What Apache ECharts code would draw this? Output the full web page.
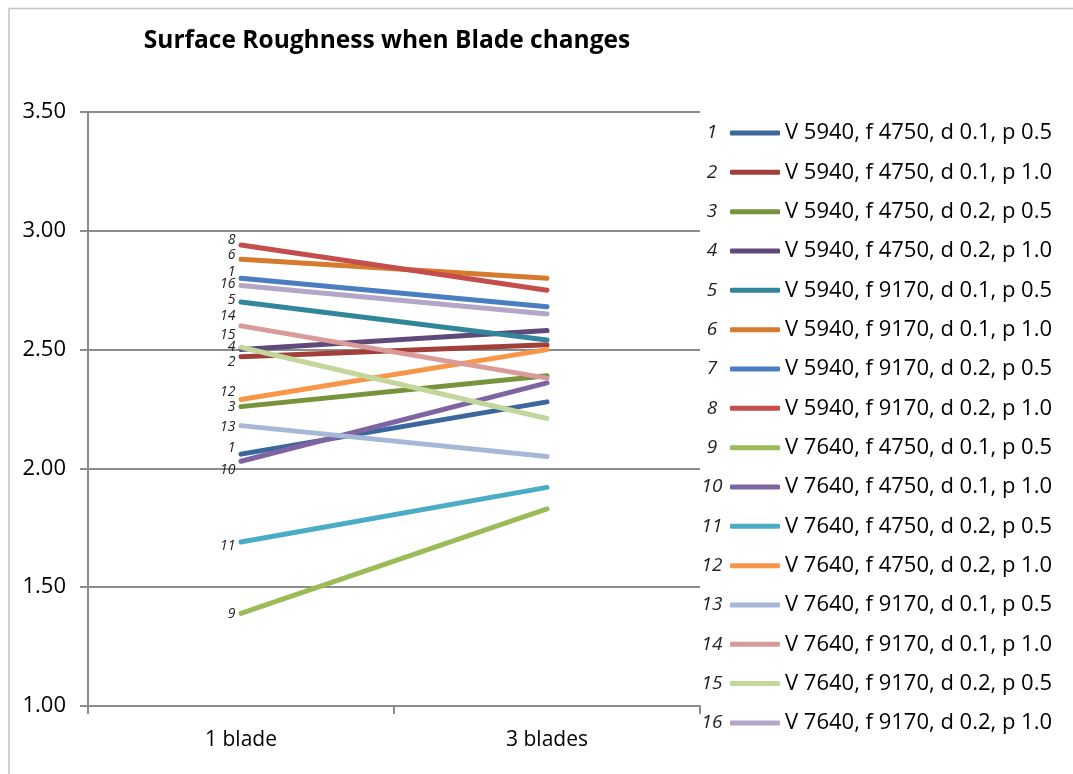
<!DOCTYPE html>
<html>
<head>
<meta charset="utf-8">
<title>Surface Roughness when Blade changes</title>
<script src="https://cdn.jsdelivr.net/npm/echarts@6/dist/echarts.min.js"></script>
<style>
  html, body { margin: 0; padding: 0; background: #ffffff; }
  #chart { width: 1073px; height: 774px; }
</style>
</head>
<body>
<div id="chart"></div>
<script>
// Categories on the x axis
const categories = ['1 blade', '3 blades'];

// Cutting conditions, one per line
const seriesNames = [
  'V 5940, f 4750, d 0.1, p 0.5',
  'V 5940, f 4750, d 0.1, p 1.0',
  'V 5940, f 4750, d 0.2, p 0.5',
  'V 5940, f 4750, d 0.2, p 1.0',
  'V 5940, f 9170, d 0.1, p 0.5',
  'V 5940, f 9170, d 0.1, p 1.0',
  'V 5940, f 9170, d 0.2, p 0.5',
  'V 5940, f 9170, d 0.2, p 1.0',
  'V 7640, f 4750, d 0.1, p 0.5',
  'V 7640, f 4750, d 0.1, p 1.0',
  'V 7640, f 4750, d 0.2, p 0.5',
  'V 7640, f 4750, d 0.2, p 1.0',
  'V 7640, f 9170, d 0.1, p 0.5',
  'V 7640, f 9170, d 0.1, p 1.0',
  'V 7640, f 9170, d 0.2, p 0.5',
  'V 7640, f 9170, d 0.2, p 1.0'
];

// Surface roughness with one blade
const oneBlade = [2.06, 2.47, 2.26, 2.50, 2.70, 2.88, 2.80, 2.94, 1.39, 2.03, 1.69, 2.29, 2.18, 2.60, 2.51, 2.77];

// Surface roughness with three blades
const threeBlades = [2.28, 2.52, 2.39, 2.58, 2.54, 2.80, 2.68, 2.75, 1.83, 2.36, 1.92, 2.50, 2.05, 2.38, 2.21, 2.65];

// Tags written next to the first point of each line
const pointTags = ['1', '2', '3', '4', '5', '6', '1', '8', '9', '10', '11', '12', '13', '14', '15', '16'];

// Numbers written in front of each legend entry
const legendNumbers = ['1', '2', '3', '4', '5', '6', '7', '8', '9', '10', '11', '12', '13', '14', '15', '16'];

// Value axis ticks
const yMin = 1.0, yMax = 3.5, yStep = 0.5;

// Line colours
const colors = [
  '#3A679C', '#A13F3B', '#77933C', '#604A7B', '#31869B', '#D67A2E', '#4A7EC0', '#C34E4B',
  '#9BBB59', '#8064A2', '#4BACC6', '#F79646', '#A6B8D8', '#D99B99', '#C3D69B', '#B3A6C8'
];

// Vertical nudges for the point tags so they do not collide
const tagShift = [-6, 5, 0, -3, -2, -4, -6, -5, 1, 9, 4, -7, 1, -10, -12, -1];

const FONT = '"Open Sans", "Noto Sans", sans-serif';
const GRID_COLOR = '#8c8c8c';

const chart = echarts.init(document.getElementById('chart'), null, { renderer: 'canvas' });

const series = seriesNames.map((name, i) => ({
  name: name,
  type: 'line',
  data: [oneBlade[i], threeBlades[i]],
  symbol: 'circle',
  symbolSize: 1,
  showSymbol: true,
  lineStyle: { width: 5, color: colors[i], cap: 'round' },
  itemStyle: { color: colors[i] },
  emphasis: { disabled: true },
  label: {
    show: true,
    position: 'left',
    distance: 5,
    offset: [0, tagShift[i]],
    fontFamily: FONT,
    fontStyle: 'italic',
    fontSize: 14,
    color: '#222',
    formatter: p => (p.dataIndex === 0 ? pointTags[i] : '')
  }
}));

// Legend geometry
const legendFont = 22, legendRow = 39.33, firstRowCenter = 133;
const legendTop = firstRowCenter - legendFont / 2;

const graphics = [
  {
    type: 'polyline',
    shape: { points: [[9, 774], [9, 8.5], [1073, 8.5]] },
    style: { stroke: '#c4c4c4', lineWidth: 1.5, fill: null },
    silent: true
  }
].concat(legendNumbers.map((n, i) => ({
  type: 'text',
  x: 712,
  y: firstRowCenter + i * legendRow,
  style: {
    text: n,
    fontFamily: FONT,
    fontStyle: 'italic',
    fontSize: 19,
    fill: '#222',
    align: 'center',
    verticalAlign: 'middle'
  },
  silent: true
})));

chart.setOption({
  backgroundColor: '#ffffff',
  animation: false,
  color: colors,
  title: {
    text: 'Surface Roughness when Blade changes',
    left: 382,
    top: 24,
    textAlign: 'center',
    textStyle: { fontFamily: FONT, fontWeight: 'bold', fontSize: 24.5, color: '#000' }
  },
  grid: { left: 88, right: 373, top: 112, bottom: 68, containLabel: false },
  legend: {
    orient: 'vertical',
    left: 730,
    top: legendTop,
    icon: 'roundRect',
    itemWidth: 50,
    itemHeight: 5,
    itemGap: legendRow - legendFont,
    padding: 0,
    selectedMode: false,
    data: seriesNames,
    textStyle: { fontFamily: FONT, fontSize: legendFont, color: '#000' }
  },
  xAxis: {
    type: 'category',
    data: categories,
    boundaryGap: true,
    axisLine: { lineStyle: { color: GRID_COLOR, width: 2 } },
    axisTick: { show: true, length: 8, lineStyle: { color: GRID_COLOR, width: 2 } },
    axisLabel: { fontFamily: FONT, fontSize: 21, color: '#000', margin: 24 },
    splitLine: { show: false }
  },
  yAxis: {
    type: 'value',
    min: yMin,
    max: yMax,
    interval: yStep,
    axisLine: { show: true, lineStyle: { color: GRID_COLOR, width: 2 } },
    axisTick: { show: true, length: 8, lineStyle: { color: GRID_COLOR, width: 2 } },
    axisLabel: {
      fontFamily: FONT, fontSize: 22, color: '#000', margin: 22,
      formatter: v => v.toFixed(2)
    },
    splitLine: { show: true, lineStyle: { color: GRID_COLOR, width: 2 } }
  },
  graphic: graphics,
  series: series
});
</script>
</body>
</html>
